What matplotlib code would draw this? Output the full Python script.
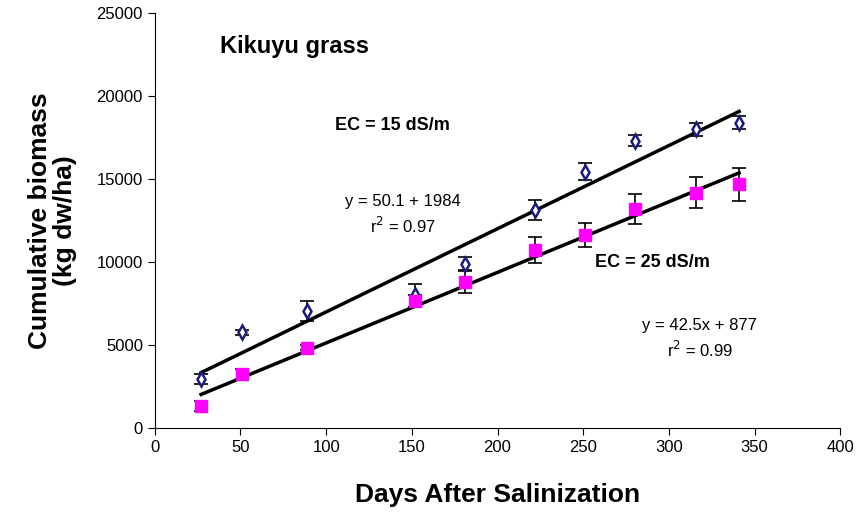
import matplotlib.pyplot as plt

plt.rcParams['font.family'] = ['Liberation Sans', 'DejaVu Sans']

# Data
days = [27, 51, 89, 152, 181, 222, 251, 280, 316, 341]
ec15 = [2950, 5780, 7050, 8000, 9880, 13130, 15440, 17310, 17990, 18390]
ec15_err = [300, 150, 600, 700, 450, 600, 500, 350, 380, 400]
ec25 = [1340, 3250, 4840, 7670, 8810, 10720, 11630, 13170, 14180, 14680]
ec25_err = [300, 300, 150, 350, 700, 800, 730, 900, 950, 1000]

# Fitted lines: slope, intercept
fit15 = [50.1, 1984]
fit25 = [42.5, 877]

fig = plt.figure(figsize=(8.6, 5.17), dpi=100)
ax = fig.add_axes([0.180, 0.172, 0.797, 0.803])

x0, x1 = days[0], days[-1]
ax.plot([x0, x1], [fit15[0] * x0 + fit15[1], fit15[0] * x1 + fit15[1]],
        color='black', lw=2.5, zorder=2)
ax.plot([x0, x1], [fit25[0] * x0 + fit25[1], fit25[0] * x1 + fit25[1]],
        color='black', lw=2.5, zorder=2)

ax.errorbar(days, ec15, yerr=ec15_err, fmt='none', ecolor='black',
            elinewidth=1.2, capsize=5, capthick=1.2, zorder=3)
ax.errorbar(days, ec25, yerr=ec25_err, fmt='none', ecolor='black',
            elinewidth=1.2, capsize=5, capthick=1.2, zorder=3)
ax.plot(days, ec15, linestyle='none', marker='d', markersize=7,
        markerfacecolor='white', markeredgecolor='#1c1c7a',
        markeredgewidth=1.8, zorder=4)
ax.plot(days, ec25, linestyle='none', marker='s', markersize=9,
        color='#ff00ff', zorder=4)

ax.set_xlim(0, 400)
ax.set_ylim(0, 25000)
ax.set_xticks(range(0, 401, 50))
ax.set_yticks(range(0, 25001, 5000))
ax.spines['top'].set_visible(False)
ax.spines['right'].set_visible(False)
ax.tick_params(direction='out', labelsize=12, length=5)

ax.set_xlabel('Days After Salinization', fontsize=19, fontweight='bold',
              labelpad=20)
ax.set_ylabel('Cumulative biomass\n(kg dw/ha)', fontsize=19,
              fontweight='bold', labelpad=14, linespacing=1.05)

ax.text(38, 23000, 'Kikuyu grass', fontsize=17, fontweight='bold',
        va='center')
ax.text(105, 18250, 'EC = 15 dS/m', fontsize=13, fontweight='bold',
        va='center')
ax.text(145, 13650, 'y = 50.1 + 1984', fontsize=12, ha='center',
        va='center')
ax.text(145, 12150, 'r$^2$ = 0.97', fontsize=12, ha='center', va='center')
ax.text(257, 9950, 'EC = 25 dS/m', fontsize=13, fontweight='bold',
        va='center')
ax.text(318, 6200, 'y = 42.5x + 877', fontsize=12, ha='center',
        va='center')
ax.text(318, 4700, 'r$^2$ = 0.99', fontsize=12, ha='center', va='center')

fig.savefig('out.png', dpi=100)
